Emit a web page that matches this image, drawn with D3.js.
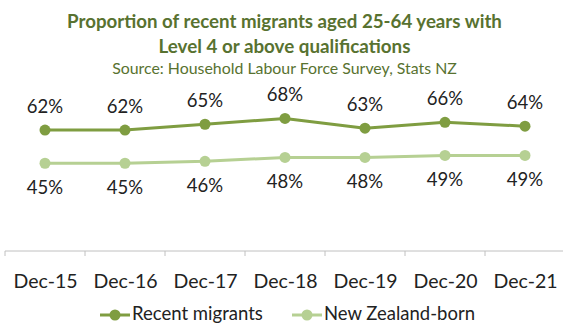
<!DOCTYPE html>
<html>
<head>
<meta charset="utf-8">
<script src="https://cdn.jsdelivr.net/npm/d3@7"></script>
<style>
  html, body { margin: 0; padding: 0; background: #fff; }
  svg { display: block; font-family: Lato, "Open Sans", sans-serif; }
</style>
</head>
<body>
<svg id="chart" width="563" height="327"></svg>
<script>
// Survey periods and shares (%) of people aged 25-64 holding Level 4+ qualifications
const categories = ["Dec-15", "Dec-16", "Dec-17", "Dec-18", "Dec-19", "Dec-20", "Dec-21"];
const recentMigrants = [62, 62, 65, 68, 63, 66, 64];
const nzBorn = [45, 45, 46, 48, 48, 49, 49];
const seriesNames = ["Recent migrants", "New Zealand-born"];
const titleLines = ["Proportion of recent migrants aged 25-64 years with", "Level 4 or above qualifications"];
const subtitle = "Source: Household Labour Force Survey, Stats NZ";

const svg = d3.select("#chart");
const W = 563;

const colors = { migrants: "#7f9d41", nz: "#b6d093", title: "#587230", text: "#222", axis: "#c0c0c0" };

// Scales: one 80px band per period, y from 0 to 100%
const x = d3.scaleBand().domain(categories).range([5, 565]).padding(0);
const y = d3.scaleLinear().domain([0, 100]).range([251, 56]);
const cx = d => x(d) + x.bandwidth() / 2;

// Shrink/grow a text node so it spans the given width
function fitWidth(sel, target) {
  const node = sel.node();
  const fs = parseFloat(sel.attr("font-size"));
  const w = node.getComputedTextLength();
  sel.attr("font-size", (fs * target / w).toFixed(2));
}

// Title and source line
svg.append("text").attr("x", W / 2 + 3).attr("y", 28).attr("text-anchor", "middle")
  .attr("font-size", 18).attr("font-weight", "bold").attr("fill", colors.title)
  .text(titleLines[0]).call(fitWidth, 435);
svg.append("text").attr("x", W / 2 + 3).attr("y", 52.5).attr("text-anchor", "middle")
  .attr("font-size", 18).attr("font-weight", "bold").attr("fill", colors.title)
  .text(titleLines[1]).call(fitWidth, 252);
svg.append("text").attr("x", W / 2 + 3).attr("y", 74).attr("text-anchor", "middle")
  .attr("font-size", 14).attr("fill", colors.title)
  .text(subtitle).call(fitWidth, 345);

// Category axis: baseline, tick marks at band edges, labels under band centres
const axisG = svg.append("g").attr("transform", `translate(0,${y(0)})`);
axisG.append("line").attr("x1", 5).attr("x2", 565).attr("stroke", colors.axis).attr("stroke-width", 1);
axisG.selectAll("line.tick").data(categories).join("line").attr("class", "tick")
  .attr("x1", d => x(d)).attr("x2", d => x(d)).attr("y1", 0).attr("y2", 5)
  .attr("stroke", colors.axis);
const labelAxis = d3.axisBottom(d3.scalePoint().domain(categories).range([cx(categories[0]), cx(categories[categories.length - 1])]))
  .tickSize(0).tickPadding(0);
const la = svg.append("g").attr("transform", `translate(0,${y(0)})`).call(labelAxis);
la.select(".domain").remove();
la.selectAll("text").attr("font-size", 19.5).attr("fill", colors.text)
  .attr("font-family", "Lato, sans-serif").attr("dy", null).attr("y", 36.5);

// Lines with markers and value labels
const series = [
  { name: seriesNames[0], values: recentMigrants, color: colors.migrants, labelDy: -17 },
  { name: seriesNames[1], values: nzBorn, color: colors.nz, labelDy: 31 }
];
const line = d3.line().x((d, i) => cx(categories[i])).y(d => y(d));

series.forEach(s => {
  const g = svg.append("g");
  g.append("path").datum(s.values).attr("d", line)
    .attr("fill", "none").attr("stroke", s.color).attr("stroke-width", 3).attr("stroke-linejoin", "round");
  g.selectAll("circle").data(s.values).join("circle")
    .attr("cx", (d, i) => cx(categories[i])).attr("cy", d => y(d)).attr("r", 5.5)
    .attr("fill", s.color);
  g.selectAll("text").data(s.values).join("text")
    .attr("x", (d, i) => cx(categories[i])).attr("y", d => y(d) + s.labelDy)
    .attr("text-anchor", "middle").attr("font-size", 18.5).attr("fill", colors.text)
    .text(d => d + "%");
});

// Legend
const legendItems = [
  { name: seriesNames[0], color: colors.migrants, x: 100, w: 131 },
  { name: seriesNames[1], color: colors.nz, x: 292, w: 151 }
];
const lg = svg.append("g").attr("transform", "translate(0,315)");
legendItems.forEach(it => {
  lg.append("line").attr("x1", it.x).attr("x2", it.x + 30).attr("stroke", it.color).attr("stroke-width", 3);
  lg.append("circle").attr("cx", it.x + 15).attr("r", 5.5).attr("fill", it.color);
  lg.append("text").attr("x", it.x + 32).attr("y", 5).attr("font-size", 17).attr("fill", colors.text)
    .text(it.name).call(fitWidth, it.w);
});
</script>
</body>
</html>
